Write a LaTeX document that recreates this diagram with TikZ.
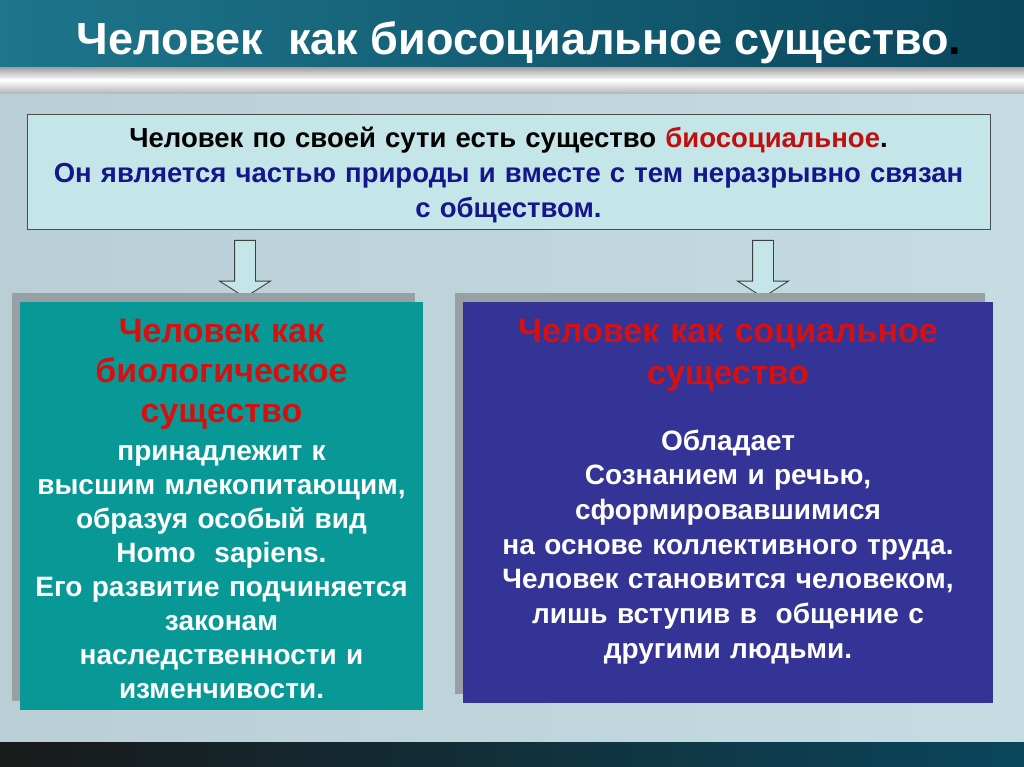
\documentclass[tikz,border=0pt]{standalone}
\usepackage{fontspec}
\setmainfont{Liberation Sans}
\usetikzlibrary{shapes.arrows,shadows}
\definecolor{headteal}{RGB}{30,118,140}
\definecolor{headdark}{RGB}{10,70,92}
\definecolor{bgleft}{RGB}{186,206,214}
\definecolor{bgmid}{RGB}{184,188,192}
\definecolor{bgright}{RGB}{196,220,226}
\definecolor{boxcyan}{RGB}{196,230,232}
\definecolor{tealbox}{RGB}{8,153,150}
\definecolor{bluebox}{RGB}{52,52,150}
\definecolor{shadowgray}{RGB}{152,160,164}
\definecolor{redtxt}{RGB}{214,16,16}
\definecolor{navytxt}{RGB}{22,22,140}
\begin{document}
\begin{tikzpicture}[x=1pt,y=-1pt,
  panel/.style={minimum width=#1, inner sep=0pt,
    general shadow={fill=shadowgray, shadow xshift=-8pt, shadow yshift=9pt}},
  downarrow/.style={shape=single arrow, shape border rotate=270, draw=black!75,
    fill=boxcyan, line width=0.9pt, inner sep=10pt, minimum height=57pt,
    single arrow head extend=15pt, single arrow tip angle=115},
  bigred/.style={anchor=north, inner sep=0pt, text=redtxt, align=center,
    font=\bfseries\fontsize{34}{40}\selectfont},
  whitetxt/.style={anchor=north, inner sep=0pt, text=white, align=center,
    font=\bfseries\fontsize{28}{34.1}\selectfont}]
\useasboundingbox (0,0) rectangle (1024,767);
% background
\shade[left color=bgleft, middle color=bgmid, right color=bgright] (0,90) rectangle (1024,742);
\shade[left color=headteal, right color=headdark] (0,0) rectangle (1024,68);
\shade[top color=gray!70, bottom color=white] (0,68) rectangle (1024,80);
\shade[top color=white, bottom color=gray!60] (0,80) rectangle (1024,94);
\shade[left color=black!90, right color=headdark] (0,742) rectangle (1024,767);
% title
\node[anchor=base, inner sep=0pt, text=white, font=\bfseries\fontsize{45}{50}\selectfont] (title) at (519,55)
  {Человек~ как биосоциальное существо{\color{black}.}};
% thesis
\node[draw=black!70, line width=1pt, fill=boxcyan, minimum width=963pt, minimum height=115pt] (thesis) at (508.5,172.5) {};
\node[anchor=north, inner sep=0pt, text width=955pt, align=center,
  font=\bfseries\fontsize{27.5}{35}\selectfont] (thesistxt) at (508.5,122.5)
  {\strut Человек по своей сути есть существо {\color{redtxt!90!black}биосоциальное}.\\
   \color{navytxt}Он является частью природы и вместе с тем неразрывно связан\\
   с обществом.};
% arrows
\node[downarrow] (arrbio) at (245,265.5) {};
\node[downarrow] (arrsoc) at (763,265.5) {};
% biological
\node[panel=403pt, fill=tealbox, minimum height=408pt] (bio) at (221.5,506) {};
\node[bigred, text width=400pt] (biohead) at (221.5,314) {\strut Человек как\\ биологическое\\ существо};
\node[whitetxt, text width=400pt] (biotext) at (221.5,436.1)
  {\strut принадлежит к\\ высшим млекопитающим,\\ образуя особый вид\\ Homo~ sapiens.\\
   Его развитие подчиняется\\ законам\\ наследственности и\\ изменчивости.};
% social
\node[panel=530pt, fill=bluebox, minimum height=401pt] (soc) at (728,502.5) {};
\node[bigred, text width=520pt, font=\bfseries\fontsize{34}{42}\selectfont] (sochead) at (728,312.6)
  {\strut Человек как социальное\\ существо};
\node[whitetxt, text width=520pt, font=\bfseries\fontsize{28}{34.7}\selectfont] (soctext) at (728,425.7)
  {\strut Обладает\\ Сознанием и речью,\\ сформировавшимися\\ на основе коллективного труда.\\
   Человек становится человеком,\\ лишь вступив в~ общение с\\ другими людьми.};
\end{tikzpicture}
\end{document}
